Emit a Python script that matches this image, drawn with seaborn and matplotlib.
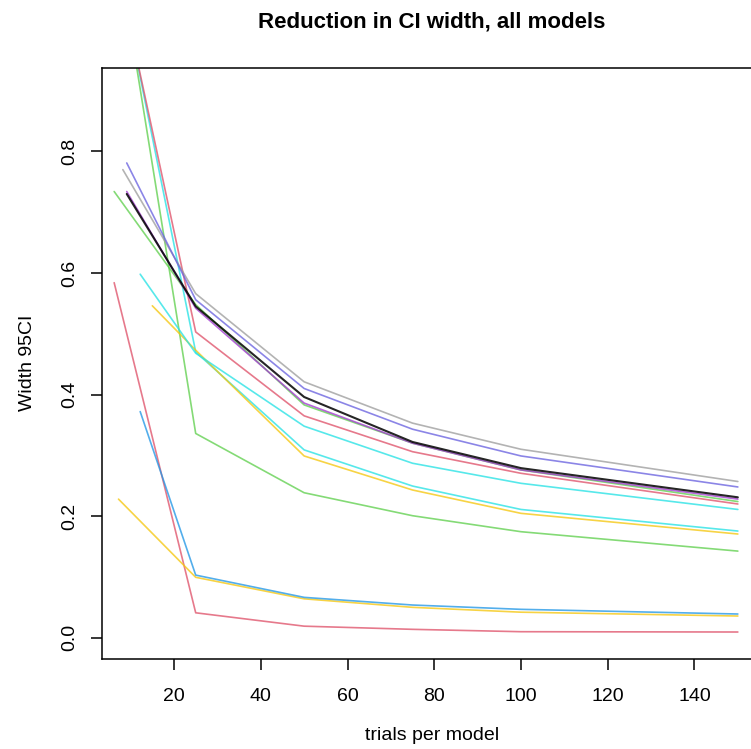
import numpy as np
import pandas as pd
import matplotlib
matplotlib.use("Agg")
import matplotlib.pyplot as plt
import seaborn as sns

# ---- data ----
series_names = ["red_low", "yellow_low", "blue_low", "cyan_low", "green_steep", "red_steep",
                "yellow_mid", "cyan_mid", "green_top", "gray_top",
                "blue_top", "purple_top", "black_top"]

red_low_x = [6.2, 25, 50, 75, 100, 150]
red_low_y = [0.584, 0.041, 0.019, 0.0138, 0.0099, 0.0094]

yellow_low_x = [7.2, 25, 50, 75, 100, 150]
yellow_low_y = [0.228, 0.0994, 0.064, 0.050, 0.042, 0.0357]

blue_low_x = [12.2, 25, 50, 75, 100, 150]
blue_low_y = [0.372, 0.103, 0.0664, 0.0538, 0.0467, 0.039]

green_steep_x = [10, 25, 50, 75, 100, 150]
green_steep_y = [1.00, 0.336, 0.2385, 0.2007, 0.1744, 0.1425]

red_steep_x = [10, 25, 50, 75, 100, 150]
red_steep_y = [1.00, 0.503, 0.365, 0.306, 0.2705, 0.220]

yellow_mid_x = [15.0, 25, 50, 75, 100, 150]
yellow_mid_y = [0.546, 0.473, 0.299, 0.243, 0.2046, 0.1706]

cyan_low_x = [10, 25, 50, 75, 100, 150]
cyan_low_y = [1.00, 0.470, 0.309, 0.2495, 0.211, 0.1755]

cyan_mid_x = [12.2, 25, 50, 75, 100, 150]
cyan_mid_y = [0.598, 0.468, 0.348, 0.287, 0.254, 0.211]

green_top_x = [6.2, 25, 50, 75, 100, 150]
green_top_y = [0.734, 0.548, 0.383, 0.320, 0.276, 0.224]

gray_top_x = [8.2, 25, 50, 75, 100, 150]
gray_top_y = [0.770, 0.566, 0.421, 0.353, 0.310, 0.257]

blue_top_x = [9.1, 25, 50, 75, 100, 150]
blue_top_y = [0.781, 0.556, 0.410, 0.343, 0.299, 0.248]

purple_top_x = [9.1, 25, 50, 75, 100, 150]
purple_top_y = [0.734, 0.542, 0.386, 0.320, 0.276, 0.228]

black_top_x = [9.1, 25, 50, 75, 100, 150]
black_top_y = [0.730, 0.545, 0.396, 0.322, 0.279, 0.231]

series_colors = ["#DF536B", "#F5C710", "#2297E6", "#28E2E5", "#61D04F", "#DF536B",
                 "#F5C710", "#28E2E5", "#61D04F", "#9E9E9E",
                 "#6B63E0", "#A23BD0", "#000000"]

xticks = [20, 40, 60, 80, 100, 120, 140]
yticks = [0.0, 0.2, 0.4, 0.6, 0.8]
ytick_labels = ["0.0", "0.2", "0.4", "0.6", "0.8"]

title = "Reduction in CI width, all models"
xlabel = "trials per model"
ylabel = "Width 95CI"

# ---- build long table ----
xs = [red_low_x, yellow_low_x, blue_low_x, cyan_low_x, green_steep_x, red_steep_x, yellow_mid_x,
      cyan_mid_x, green_top_x, gray_top_x, blue_top_x, purple_top_x, black_top_x]
ys = [red_low_y, yellow_low_y, blue_low_y, cyan_low_y, green_steep_y, red_steep_y, yellow_mid_y,
      cyan_mid_y, green_top_y, gray_top_y, blue_top_y, purple_top_y, black_top_y]
rows = []
for name, xv, yv in zip(series_names, xs, ys):
    for a, b in zip(xv, yv):
        rows.append({"series": name, "x": a, "y": b})
df = pd.DataFrame(rows)
palette = dict(zip(series_names, series_colors))

sns.set_style("white")
plt.rcParams["font.family"] = ["Liberation Sans", "DejaVu Sans"]
plt.rcParams["text.color"] = "black"
plt.rcParams["axes.labelcolor"] = "black"
plt.rcParams["xtick.color"] = "black"
plt.rcParams["ytick.color"] = "black"

W, H = 751, 749
fig = plt.figure(figsize=(W / 100, H / 100), dpi=100)
left, right, top, bottom = 101.5, 763, 68, 659
ax = fig.add_axes([left / W, (H - bottom) / H, (right - left) / W, (bottom - top) / H])

sns.lineplot(data=df, x="x", y="y", hue="series", hue_order=series_names,
             palette=palette, estimator=None, sort=False, legend=False,
             linewidth=1.2, alpha=0.78, ax=ax)
# make the black series a touch heavier, as in the reference
for line in ax.get_lines():
    if line.get_label() == "black_top" or matplotlib.colors.to_hex(line.get_color()) == "#000000":
        line.set_linewidth(1.5)
        line.set_alpha(0.85)

ax.set_xlim(3.28, 155.8)
ax.set_ylim(-0.035, 0.9372)
ax.set_xticks(xticks)
ax.set_xticklabels([str(t) for t in xticks])
ax.set_yticks(yticks)
ax.set_yticklabels(ytick_labels, rotation=90, va="center")

for s in ax.spines.values():
    s.set_visible(True)
    s.set_color("black")
    s.set_linewidth(1.1)

ax.tick_params(axis="both", which="major", direction="out", length=8, width=1.1,
               color="black", labelsize=14, labelcolor="black", bottom=True, left=True)
ax.tick_params(axis="x", pad=13)
ax.tick_params(axis="y", pad=9)

ax.set_xlabel("")
ax.set_ylabel("")
fig.text(432 / W, 1 - 735 / H, xlabel, ha="center", va="center", fontsize=14, color="black")
fig.text(28 / W, 1 - 363 / H, ylabel, ha="center", va="center", fontsize=14, rotation=90, color="black")
fig.text(432 / W, 1 - 22 / H, title, ha="center", va="center", fontsize=16, fontweight="bold", color="black")

fig.savefig("out.png", dpi=100)
